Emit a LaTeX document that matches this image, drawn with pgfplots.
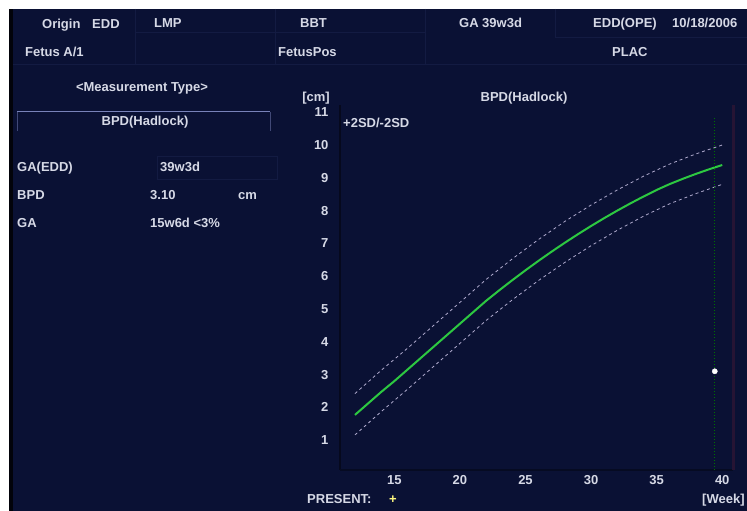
\documentclass[border=0pt]{standalone}
\usepackage{pgfplots}
\pgfplotsset{compat=1.18}
\usepackage{fontspec}
\setmainfont{Liberation Sans}
\definecolor{bg}{RGB}{10,17,52}
\definecolor{txt}{RGB}{214,217,230}
\definecolor{grn}{RGB}{45,200,65}
\definecolor{sd}{RGB}{175,170,205}
\definecolor{cell}{RGB}{19,27,66}
\definecolor{boxl}{RGB}{120,130,185}
\definecolor{redl}{RGB}{38,20,52}
\newcommand{\T}[3]{\node[anchor=base west, inner sep=0pt, text=txt, font=\fontsize{13}{15}\selectfont\bfseries] at (#1,{511-#2}) {#3};}
\newcommand{\TC}[3]{\node[anchor=base, inner sep=0pt, text=txt, font=\fontsize{13}{15}\selectfont\bfseries] at (#1,{511-#2}) {#3};}
\begin{document}
\begin{tikzpicture}
\begin{scope}[x=1pt,y=1pt]
\useasboundingbox (0,0) rectangle (747,511);
\fill[white] (0,0) rectangle (747,511);
\fill[bg] (9,0) rectangle (747,502);
\fill[black!80!bg] (9,0) rectangle (13,502);
% header faint cell lines
\draw[cell, line width=1pt] (13,{511-65}) -- (747,{511-65});
\draw[cell, line width=1pt] (135,{511-33}) -- (425,{511-33});
\draw[cell, line width=1pt] (555,{511-38}) -- (747,{511-38});
\draw[cell, line width=1pt] (135,502) -- (135,{511-65});
\draw[cell, line width=1pt] (275,502) -- (275,{511-65});
\draw[cell, line width=1pt] (425,502) -- (425,{511-65});
\draw[cell, line width=1pt] (555,502) -- (555,{511-38});
% header texts
\T{42}{28.5}{Origin}
\T{92}{28.5}{EDD}
\T{154}{28}{LMP}
\T{300}{28}{BBT}
\T{459}{28}{GA}
\T{482}{28}{39w3d}
\T{593}{28}{EDD(OPE)}
\T{672}{28}{10/18/2006}
\T{25}{57}{Fetus A/1}
\T{278}{57}{FetusPos}
\T{612}{57}{PLAC}
% left panel
\TC{142}{92}{<Measurement Type>}
\draw[boxl, line width=1pt] (17,{511-112}) -- (270,{511-112});
\draw[boxl!50!bg, line width=1pt] (17,{511-112}) -- (17,{511-131});
\draw[boxl!50!bg, line width=1pt] (270,{511-112}) -- (270,{511-131});
\TC{145}{126}{BPD(Hadlock)}
\draw[cell, line width=1pt] (157,{511-157}) rectangle (277,{511-180});
\T{17}{172}{GA(EDD)}
\T{160}{172}{39w3d}
\T{17}{200}{BPD}
\T{150}{200}{3.10}
\T{238}{200}{cm}
\T{17}{228}{GA}
\T{150}{228}{15w6d <3\%}
% chart texts
\TC{316}{102}{[cm]}
\TC{524}{102}{BPD(Hadlock)}
\T{343}{128}{+2SD/-2SD}
\T{307}{504}{PRESENT:}
\node[anchor=base west, inner sep=0pt, text=yellow!50!white, font=\fontsize{13}{15}\selectfont\bfseries] at (389,{511-504}) {+};
\T{702}{504}{[Week]}
\end{scope}
\begin{axis}[
  at={(340pt,41pt)}, anchor=south west,
  scale only axis, width=393pt, height=365pt,
  xmin=10.86, xmax=40.82, ymin=0.09, ymax=11.22,
  axis line style={draw=none},
  xtick={15,20,25,30,35,40}, ytick={1,2,3,4,5,6,7,8,9,10,11},
  tick style={draw=none},
  ticklabel style={text=txt, font=\fontsize{13}{15}\selectfont\bfseries},
  /pgf/number format/assume math mode=true,
  yticklabel style={xshift=-8pt},
  xticklabel style={yshift=-2pt},
  clip=false,
]
\draw[black!45!bg, line width=2pt] (rel axis cs:0,0) -- (rel axis cs:0,1);
\draw[black!35!bg, line width=1.5pt] (rel axis cs:0,0) -- (rel axis cs:1,0);
\draw[redl, line width=3pt] (rel axis cs:1,0) -- (rel axis cs:1,1);
\addplot[sd, dashed, line width=0.8pt, dash pattern=on 3pt off 3pt] coordinates {
(12,2.42) (14,3.13) (16,3.80) (18,4.50) (20,5.20) (22,5.90) (24,6.53) (26,7.12)
(28,7.67) (30,8.17) (32,8.63) (34,9.05) (36,9.42) (38,9.73) (40,10.00)};
\addplot[sd, dashed, line width=0.8pt, dash pattern=on 3pt off 3pt] coordinates {
(12,1.16) (14,1.87) (16,2.55) (18,3.25) (20,3.95) (22,4.65) (24,5.28) (26,5.87)
(28,6.42) (30,6.93) (32,7.40) (34,7.83) (36,8.21) (38,8.52) (40,8.80)};
\addplot[grn, line width=2pt] coordinates {
(12,1.77) (13,2.12) (14,2.47) (15,2.80) (16,3.15) (17,3.50) (18,3.85) (19,4.20)
(20,4.55) (21,4.90) (22,5.25) (23,5.57) (24,5.88) (25,6.18) (26,6.47) (27,6.75)
(28,7.02) (29,7.28) (30,7.53) (31,7.77) (32,8.00) (33,8.22) (34,8.43) (35,8.63)
(36,8.81) (37,8.97) (38,9.12) (39,9.26) (40,9.39)};
\addplot[green!45!black, dotted, line width=1pt] coordinates {(39.43,0.09) (39.43,10.85)};
\addplot[only marks, mark=*, mark size=2.6pt, white] coordinates {(39.43,3.10)};
\end{axis}
\end{tikzpicture}
\end{document}
